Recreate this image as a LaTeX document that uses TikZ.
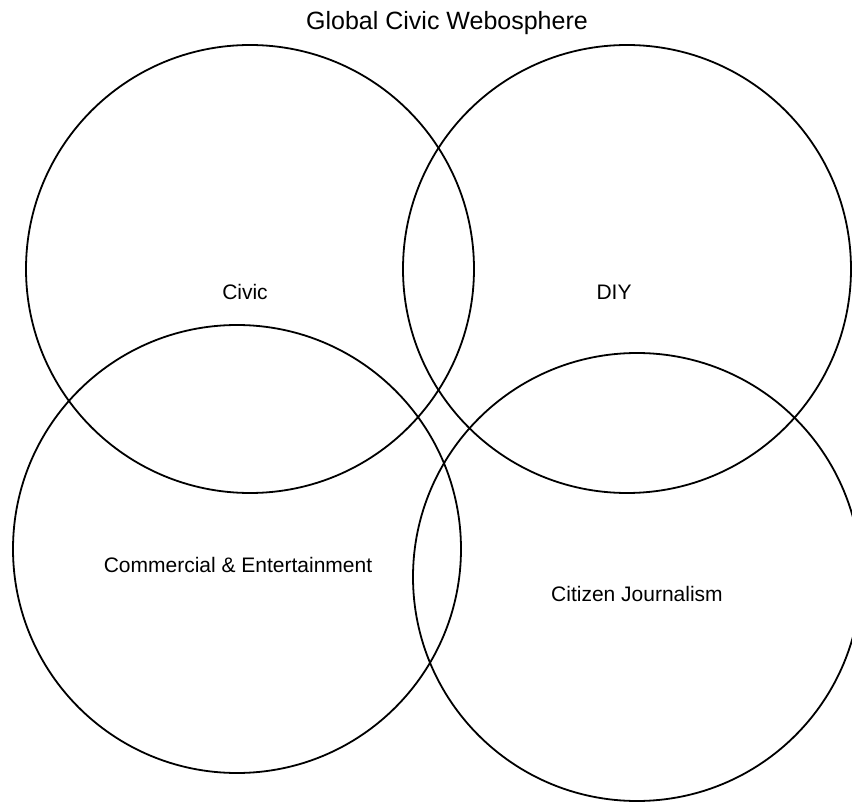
\documentclass[tikz,border=0pt]{standalone}
\usepackage{fontspec}
\setmainfont{Liberation Sans}
\begin{document}
\begin{tikzpicture}[x=1pt,y=-1pt,
  ring/.style={draw=black, line width=1.8pt, circle, minimum size=448pt, inner sep=0pt},
  label/.style={font=\fontsize{21}{25}\selectfont, inner sep=0pt},
  heading/.style={font=\fontsize{25}{30}\selectfont, inner sep=0pt, anchor=base}]
  \useasboundingbox (0,0) rectangle (852,802);
  \clip (0,0) rectangle (852,802);
  \fill[white] (0,0) rectangle (852,802);
  % the four overlapping spheres
  \node[ring] (civic) at (250,269) {};
  \node[ring] (diy) at (627,269) {};
  \node[ring] (comm) at (237,549) {};
  \node[ring] (cit) at (637,577) {};
  % labels
  \node[heading] (title) at (447,30) {Global Civic Webosphere};
  \node[label] (lcivic) at (245,292) {Civic};
  \node[label] (ldiy) at (614,292) {DIY};
  \node[label] (lcomm) at (238,565) {Commercial \& Entertainment};
  \node[label] (lcit) at (637,594) {Citizen Journalism};
\end{tikzpicture}
\end{document}
